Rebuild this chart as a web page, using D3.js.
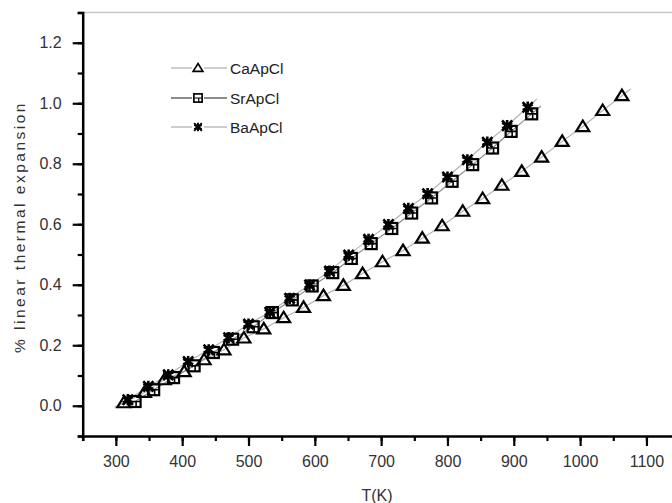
<!DOCTYPE html>
<html>
<head>
<meta charset="utf-8">
<script src="https://cdn.jsdelivr.net/npm/d3@7"></script>
<style>
  body { margin: 0; background: #fff; }
  svg { display: block; font-family: "Liberation Sans", Arial, sans-serif; }
</style>
</head>
<body>
<svg id="chart" width="672" height="503"></svg>
<script>
// series
var caT = [312, 343, 373, 403, 433, 463, 493, 523, 553, 583, 613, 643, 672, 702, 733, 762, 792, 823, 853, 882, 912, 942, 973, 1004, 1034, 1063];
var caV = [0.010, 0.044, 0.086, 0.113, 0.152, 0.185, 0.224, 0.254, 0.291, 0.325, 0.364, 0.398, 0.437, 0.476, 0.513, 0.554, 0.595, 0.643, 0.685, 0.729, 0.775, 0.822, 0.874, 0.923, 0.976, 1.025];
var srT = [329, 357, 387, 418, 447, 476, 507, 536, 566, 596, 627, 655, 685, 716, 746, 776, 807, 838, 868, 896, 927];
var srV = [0.014, 0.053, 0.093, 0.132, 0.176, 0.220, 0.261, 0.308, 0.350, 0.396, 0.440, 0.487, 0.536, 0.586, 0.637, 0.687, 0.742, 0.797, 0.852, 0.907, 0.965];
var baT = [318, 349, 379, 409, 440, 470, 500, 532, 562, 592, 622, 651, 681, 711, 741, 770, 800, 830, 860, 890, 921];
var baV = [0.020, 0.064, 0.102, 0.146, 0.185, 0.225, 0.270, 0.309, 0.355, 0.399, 0.445, 0.498, 0.550, 0.599, 0.652, 0.701, 0.756, 0.813, 0.871, 0.926, 0.987];
var seriesNames = ["CaApCl", "SrApCl", "BaApCl"];
var xTicks = [300, 400, 500, 600, 700, 800, 900, 1000, 1100];
var yTicks = [0.0, 0.2, 0.4, 0.6, 0.8, 1.0, 1.2];

var svg = d3.select("#chart");
var x = d3.scaleLinear().domain([250, 1150]).range([82.7, 679.6]);
var y = d3.scaleLinear().domain([-0.1, 1.3]).range([436, 12.5]);

// top frame line
svg.append("line")
    .attr("x1", x(250)).attr("x2", 672)
    .attr("y1", y(1.3)).attr("y2", y(1.3))
    .attr("stroke", "#c8c8c8").attr("stroke-width", 1.5);

function styleAxis(g) {
    g.select(".domain").attr("stroke", "#000").attr("stroke-width", 2.5);
    g.selectAll(".tick line").attr("stroke", "#000").attr("stroke-width", 2.2);
    g.selectAll("text").attr("fill", "#333").style("font-size", "16px");
}

// minor ticks
svg.append("g")
    .attr("transform", "translate(0," + y(-0.1) + ")")
    .call(d3.axisBottom(x).tickValues(d3.range(250, 1151, 50)).tickSize(5).tickFormat(""))
    .call(styleAxis);
svg.append("g")
    .attr("transform", "translate(" + x(250) + ",0)")
    .call(d3.axisLeft(y).tickValues(d3.range(-0.1, 1.31, 0.1)).tickSize(5).tickFormat(""))
    .call(styleAxis);

// major ticks
svg.append("g")
    .attr("transform", "translate(0," + y(-0.1) + ")")
    .call(d3.axisBottom(x).tickValues(xTicks).tickSize(10).tickPadding(10).tickFormat(d3.format("d")))
    .call(styleAxis)
    .call(g => g.select(".domain").remove());
svg.append("g")
    .attr("transform", "translate(" + x(250) + ",0)")
    .call(d3.axisLeft(y).tickValues(yTicks).tickSize(10).tickPadding(11).tickFormat(d3.format(".1f")))
    .call(styleAxis)
    .call(g => g.select(".domain").remove());

// axis titles
svg.append("text")
    .attr("x", 377).attr("y", 501)
    .attr("text-anchor", "middle")
    .attr("fill", "#333")
    .style("font-size", "16px")
    .text("T(K)");
svg.append("text")
    .attr("transform", "translate(25,227) rotate(-90)")
    .attr("text-anchor", "middle")
    .attr("fill", "#333")
    .style("font-size", "15.5px")
    .style("letter-spacing", "2.5px")
    .text("% linear thermal expansion");

// markers
function drawTriangle(g) {
    g.append("path").attr("d", "M0,-6L6.5,4.5L-6.5,4.5Z")
        .attr("fill", "none").attr("stroke", "#000").attr("stroke-width", 2.2).attr("stroke-linejoin", "miter");
}
function drawSquare(g) {
    g.append("rect").attr("x", -5.5).attr("y", -5.5).attr("width", 11).attr("height", 11)
        .attr("fill", "none").attr("stroke", "#000").attr("stroke-width", 2.2);
    g.append("path").attr("d", "M-5.5,0H5.5M1,0V5.5")
        .attr("stroke", "#000").attr("stroke-width", 1.6);
}
function drawStar(g) {
    g.append("path").attr("d", d3.symbol(d3.symbolAsterisk, 90)())
        .attr("fill", "none").attr("stroke", "#000").attr("stroke-width", 2.6);
    g.append("path").attr("d", d3.symbol(d3.symbolTimes, 70)())
        .attr("fill", "none").attr("stroke", "#000").attr("stroke-width", 2.6);
}

var series = [
    { name: seriesNames[0], t: caT, v: caV, line: "#b4b4b4", draw: drawTriangle },
    { name: seriesNames[1], t: srT, v: srV, line: "#8a8a8a", draw: drawSquare },
    { name: seriesNames[2], t: baT, v: baV, line: "#b4b4b4", draw: drawStar }
];

var line = d3.line().x(d => x(d[0])).y(d => y(d[1]));

series.forEach(function (s) {
    var pts = s.t.map((t, i) => [t, s.v[i]]);
    // extend the trend line a little past both ends
    var n = pts.length;
    var a = pts[0], b = pts[1], c = pts[n - 2], e = pts[n - 1];
    var k = 0.45;
    var full = [[a[0] - (b[0] - a[0]) * k, a[1] - (b[1] - a[1]) * k]]
        .concat(pts)
        .concat([[e[0] + (e[0] - c[0]) * k, e[1] + (e[1] - c[1]) * k]]);
    svg.append("path")
        .datum(full)
        .attr("d", line)
        .attr("fill", "none")
        .attr("stroke", s.line)
        .attr("stroke-width", 1.2);
});

series.forEach(function (s) {
    s.t.forEach(function (t, i) {
        var g = svg.append("g").attr("transform", "translate(" + x(t) + "," + y(s.v[i]) + ")");
        s.draw(g);
    });
});

// legend
var legendRows = [68, 98, 127];
series.forEach(function (s, i) {
    var ly = legendRows[i];
    svg.append("line")
        .attr("x1", 171).attr("x2", 227).attr("y1", ly).attr("y2", ly)
        .attr("stroke", i == 1 ? "#666" : "#bdbdbd").attr("stroke-width", 1.3);
    var g = svg.append("g").attr("transform", "translate(198," + ly + ") scale(0.75)");
    g.append("rect").attr("x", -8).attr("y", -8).attr("width", 16).attr("height", 16).attr("fill", "#fff");
    s.draw(g);
    svg.append("text")
        .attr("x", 230).attr("y", ly + 5.5)
        .attr("fill", "#222")
        .style("font-size", "15.5px")
        .text(s.name);
});
</script>
</body>
</html>
